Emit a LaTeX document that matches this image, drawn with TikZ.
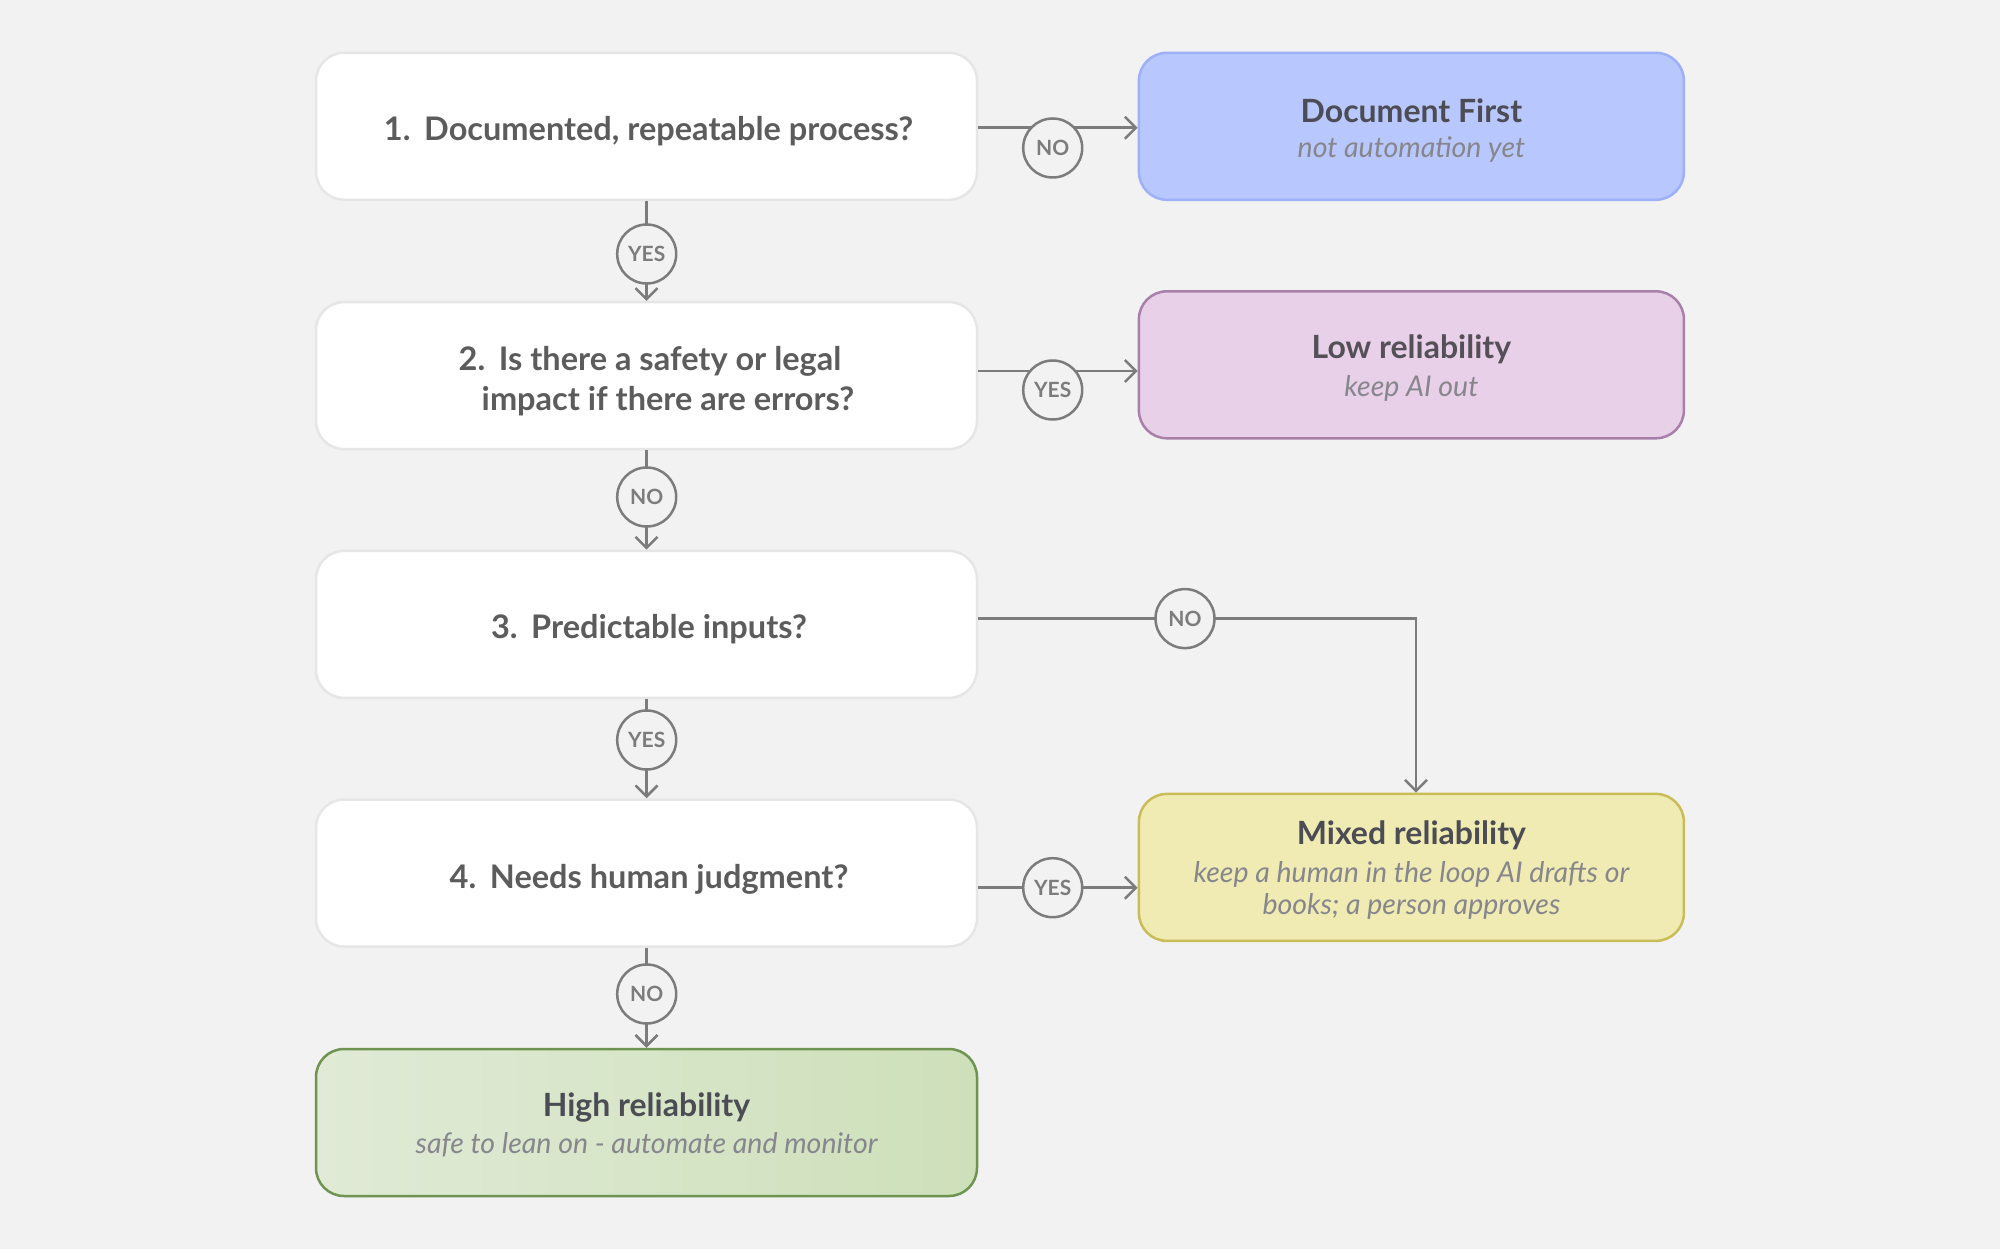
\documentclass[tikz,border=0pt]{standalone}
\usepackage{fontspec}
\setmainfont{Lato}
\usetikzlibrary{arrows.meta,calc}
\definecolor{bg}{HTML}{F2F2F2}
\definecolor{qborder}{HTML}{E6E6E6}
\definecolor{qtext}{HTML}{5C5C5C}
\definecolor{lc}{HTML}{7C7C7C}
\definecolor{dffill}{HTML}{B8C7FD}
\definecolor{dfdraw}{HTML}{9DB0F8}
\definecolor{lowfill}{HTML}{E8D0E8}
\definecolor{lowdraw}{HTML}{A880AA}
\definecolor{lowtext}{HTML}{555058}
\definecolor{mixfill}{HTML}{F0EAB3}
\definecolor{mixdraw}{HTML}{C9BD58}
\definecolor{hifillL}{HTML}{E0EAD6}
\definecolor{hifillR}{HTML}{CEE0BA}
\definecolor{hidraw}{HTML}{6F9350}
\definecolor{ttext}{HTML}{4C4C54}
\definecolor{stext}{HTML}{86868C}
\begin{document}
\begin{tikzpicture}[x=1pt,y=-1pt,
  qbox/.style={draw=qborder, line width=2.5pt, fill=white, rounded corners=28pt,
    minimum width=661pt, minimum height=147pt, inner sep=0pt},
  rbox/.style={line width=2.5pt, rounded corners=28pt, minimum width=545pt,
    minimum height=147pt, inner sep=0pt},
  qtxt/.style={inner sep=0pt, text=qtext, yshift=-4pt, font=\fontsize{32.5}{38}\selectfont\bfseries},
  ttl/.style={inner sep=0pt, text=ttext, yshift=-1pt, font=\fontsize{32}{38}\selectfont\bfseries},
  sub/.style={inner sep=0pt, text=stext, yshift=-2pt, font=\fontsize{28.5}{32}\selectfont\itshape, align=center},
  lbl/.style={circle, draw=lc, line width=2.5pt, fill=bg, minimum size=59pt,
    inner sep=0pt, text=lc, font=\fontsize{21}{24}\selectfont\bfseries},
  conn/.style={draw=lc, line width=2.5pt, -{Straight Barb[length=11pt,width=22pt]}}
]
\fill[bg] (0,0) rectangle (2000,1249);
\useasboundingbox (0,0) rectangle (2000,1249);

% question boxes
\node[qbox] (q1) at (646.5,126.3) {};
\node[qtxt] (q1t) at (648.6,127.5) {1.\hspace{0.42em}Documented, repeatable process?};
\node[qbox] (q2) at (646.5,375.6) {};
\node[qtxt] (q2a) at (650,357) {2.\hspace{0.42em}Is there a safety or legal};
\node[qtxt] (q2b) at (668,397) {impact if there are errors?};
\node[qbox] (q3) at (646.5,624.4) {};
\node[qtxt] (q3t) at (649,625) {3.\hspace{0.42em}Predictable inputs?};
\node[qbox] (q4) at (646.5,873) {};
\node[qtxt] (q4t) at (649,875) {4.\hspace{0.42em}Needs human judgment?};

% outcome boxes
\node[rbox, draw=dfdraw, fill=dffill] (df) at (1411.4,126.3) {};
\node[ttl] (dft) at (1411.4,110) {Document First};
\node[sub] (dfs) at (1411.4,148) {not automation yet};

\node[rbox, draw=lowdraw, fill=lowfill] (low) at (1411.4,364.8) {};
\node[ttl, text=lowtext] (lowt) at (1411.4,348) {Low reliability};
\node[sub] (lows) at (1411.4,386.5) {keep AI out};

\node[rbox, draw=mixdraw, fill=mixfill] (mix) at (1411.4,867.4) {};
\node[ttl] (mixt) at (1411.4,834) {Mixed reliability};
\node[sub] (mixs) at (1411.4,888.5) {keep a human in the loop AI drafts or\\books; a person approves};

\node[rbox, draw=hidraw, left color=hifillL, right color=hifillR, minimum width=661pt] (hi) at (646.5,1122.5) {};
\node[ttl] (hit) at (646.5,1106) {High reliability};
\node[sub] (his) at (646.5,1143) {safe to lean on - automate and monitor};

% horizontal connectors
\coordinate (y1) at (0,127.7);
\coordinate (y2) at (0,371);
\coordinate (y3) at (0,618.6);
\coordinate (y4) at (0,887.7);
\draw[conn] (q1.east |- y1) -- (df.west |- y1);
\draw[conn] (q2.east |- y2) -- (low.west |- y2);
\coordinate (bend) at (1416,618.6);
\draw[conn] (q3.east |- y3) -- (bend) -- (bend |- mix.north);
\draw[conn] (q4.east |- y4) -- (mix.west |- y4);

% vertical connectors
\draw[conn] (q1.south) -- (q2.north);
\draw[conn] (q2.south) -- (q3.north);
\draw[conn] (q3.south) -- (q4.north);
\draw[conn] (q4.south) -- (hi.north);

% labels
\node[lbl] (l1) at (1052.7,148) {NO};
\node[lbl] (l2) at (1052.7,390) {YES};
\node[lbl] (l3) at (1185,618.6) {NO};
\node[lbl] (l4) at (1052.7,887.7) {YES};
\node[lbl] (v1) at (646.7,254) {YES};
\node[lbl] (v2) at (646.7,497) {NO};
\node[lbl] (v3) at (646.7,740) {YES};
\node[lbl] (v4) at (646.7,994) {NO};
\end{tikzpicture}
\end{document}
